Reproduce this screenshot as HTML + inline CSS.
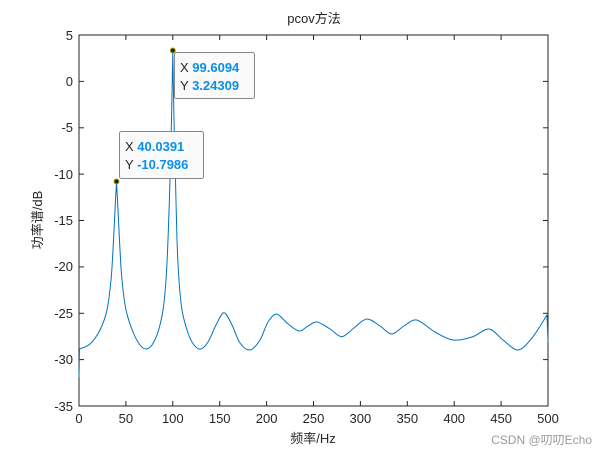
<!DOCTYPE html>
<html><head><meta charset="utf-8"><style>
body{margin:0;background:#fff;}
svg{display:block;font-family:"Liberation Sans","Noto Sans CJK SC",sans-serif;}
</style></head><body>
<svg width="606" height="455" viewBox="0 0 606 455">
<rect width="606" height="455" fill="#fff"/>
<text x="314" y="23" font-size="13" text-anchor="middle" fill="#222">pcov方法</text>
<rect x="79" y="35" width="469" height="371" fill="#fff" stroke="#262626" stroke-width="1"/>
<g stroke="#262626" stroke-width="1">
<line x1="79" y1="35" x2="84" y2="35"/><line x1="543" y1="35" x2="548" y2="35"/>
<line x1="79" y1="81.4" x2="84" y2="81.4"/><line x1="543" y1="81.4" x2="548" y2="81.4"/>
<line x1="79" y1="127.8" x2="84" y2="127.8"/><line x1="543" y1="127.8" x2="548" y2="127.8"/>
<line x1="79" y1="174.1" x2="84" y2="174.1"/><line x1="543" y1="174.1" x2="548" y2="174.1"/>
<line x1="79" y1="220.5" x2="84" y2="220.5"/><line x1="543" y1="220.5" x2="548" y2="220.5"/>
<line x1="79" y1="266.9" x2="84" y2="266.9"/><line x1="543" y1="266.9" x2="548" y2="266.9"/>
<line x1="79" y1="313.3" x2="84" y2="313.3"/><line x1="543" y1="313.3" x2="548" y2="313.3"/>
<line x1="79" y1="359.6" x2="84" y2="359.6"/><line x1="543" y1="359.6" x2="548" y2="359.6"/>
<line x1="125.9" y1="406" x2="125.9" y2="401"/><line x1="125.9" y1="35" x2="125.9" y2="40"/>
<line x1="172.8" y1="406" x2="172.8" y2="401"/><line x1="172.8" y1="35" x2="172.8" y2="40"/>
<line x1="219.7" y1="406" x2="219.7" y2="401"/><line x1="219.7" y1="35" x2="219.7" y2="40"/>
<line x1="266.6" y1="406" x2="266.6" y2="401"/><line x1="266.6" y1="35" x2="266.6" y2="40"/>
<line x1="313.5" y1="406" x2="313.5" y2="401"/><line x1="313.5" y1="35" x2="313.5" y2="40"/>
<line x1="360.4" y1="406" x2="360.4" y2="401"/><line x1="360.4" y1="35" x2="360.4" y2="40"/>
<line x1="407.3" y1="406" x2="407.3" y2="401"/><line x1="407.3" y1="35" x2="407.3" y2="40"/>
<line x1="454.2" y1="406" x2="454.2" y2="401"/><line x1="454.2" y1="35" x2="454.2" y2="40"/>
<line x1="501.1" y1="406" x2="501.1" y2="401"/><line x1="501.1" y1="35" x2="501.1" y2="40"/>
</g>
<g font-size="13" fill="#262626" text-anchor="end">
<text x="73" y="40">5</text><text x="73" y="86">0</text><text x="73" y="132">-5</text>
<text x="73" y="179">-10</text><text x="73" y="225">-15</text><text x="73" y="271">-20</text>
<text x="73" y="318">-25</text><text x="73" y="364">-30</text><text x="73" y="411">-35</text>
</g>
<g font-size="13" fill="#262626" text-anchor="middle">
<text x="79" y="423">0</text><text x="125.9" y="423">50</text><text x="172.8" y="423">100</text>
<text x="219.7" y="423">150</text><text x="266.6" y="423">200</text><text x="313.5" y="423">250</text>
<text x="360.4" y="423">300</text><text x="407.3" y="423">350</text><text x="454.2" y="423">400</text>
<text x="501.1" y="423">450</text><text x="548" y="423">500</text>
</g>
<text x="313" y="443" font-size="13" text-anchor="middle" fill="#262626">频率/Hz</text>
<text transform="translate(42,220) rotate(-90)" font-size="13" text-anchor="middle" fill="#262626">功率谱/dB</text>
<path id="curve" fill="none" stroke="#0072BD" stroke-width="1" stroke-linejoin="round" d=""/>
<circle cx="116.5" cy="181.5" r="2.5" fill="#222" stroke="#aa0"/>
<circle cx="172.8" cy="50.5" r="2.5" fill="#222" stroke="#aa0"/>
<rect x="119.5" y="131.5" width="84" height="47" rx="2" fill="#fafafa" stroke="#888"/>
<text x="125" y="151" font-size="13" fill="#262626">X <tspan fill="#0a8fe8" font-weight="bold">40.0391</tspan></text>
<text x="125" y="169" font-size="13" fill="#262626">Y <tspan fill="#0a8fe8" font-weight="bold">-10.7986</tspan></text>
<rect x="174.5" y="52.5" width="80" height="46" rx="2" fill="#fafafa" stroke="#888"/>
<text x="180" y="72" font-size="13" fill="#262626">X <tspan fill="#0a8fe8" font-weight="bold">99.6094</tspan></text>
<text x="180" y="90" font-size="13" fill="#262626">Y <tspan fill="#0a8fe8" font-weight="bold">3.24309</tspan></text>
<text x="592" y="444" font-size="12" text-anchor="end" fill="#999">CSDN @叨叨Echo</text>
</svg>
<script>
var P=[[79.5,349],[90,344],[100,330],[107,310],[111,280],[113,250],[115,210],[116.5,181.5],[118,210],[120,250],[122,280],[126,310],[133,332],[140,345],[146,349],[152,345],[158,332],[163,310],[166,280],[168,240],[170,180],[171.5,120],[172.8,51.3],[174,120],[175.5,180],[177,240],[179,280],[182,310],[188,333],[194,345],[200.7,349],[208,342],[216,325],[224,312.7],[232,325],[240,343],[250,350],[260,340],[268,322],[276.7,314],[287,323],[299,331],[308,326],[317,322],[330,329],[341.7,336.7],[354,328],[366.7,319],[380,326],[391.7,334],[404,326],[416.7,320],[435,332],[453,340],[472,337],[489,329],[503,340],[518,350],[532,338],[547,315]];
var sharp={7:1,22:1};
var d="M79,377 L79.5,349";
for(var i=0;i<P.length-1;i++){
 var p0=P[Math.max(i-1,0)],p1=P[i],p2=P[i+1],p3=P[Math.min(i+2,P.length-1)];
 var t=0.16;
 var c1=sharp[i]?p1:[p1[0]+(p2[0]-p0[0])*t,p1[1]+(p2[1]-p0[1])*t];
 var c2=sharp[i+1]?p2:[p2[0]-(p3[0]-p1[0])*t,p2[1]-(p3[1]-p1[1])*t];
 d+=" C"+c1[0].toFixed(2)+","+c1[1].toFixed(2)+" "+c2[0].toFixed(2)+","+c2[1].toFixed(2)+" "+p2[0]+","+p2[1];
}
d+=" L548,342";
document.getElementById("curve").setAttribute("d",d);
</script>
</body></html>
